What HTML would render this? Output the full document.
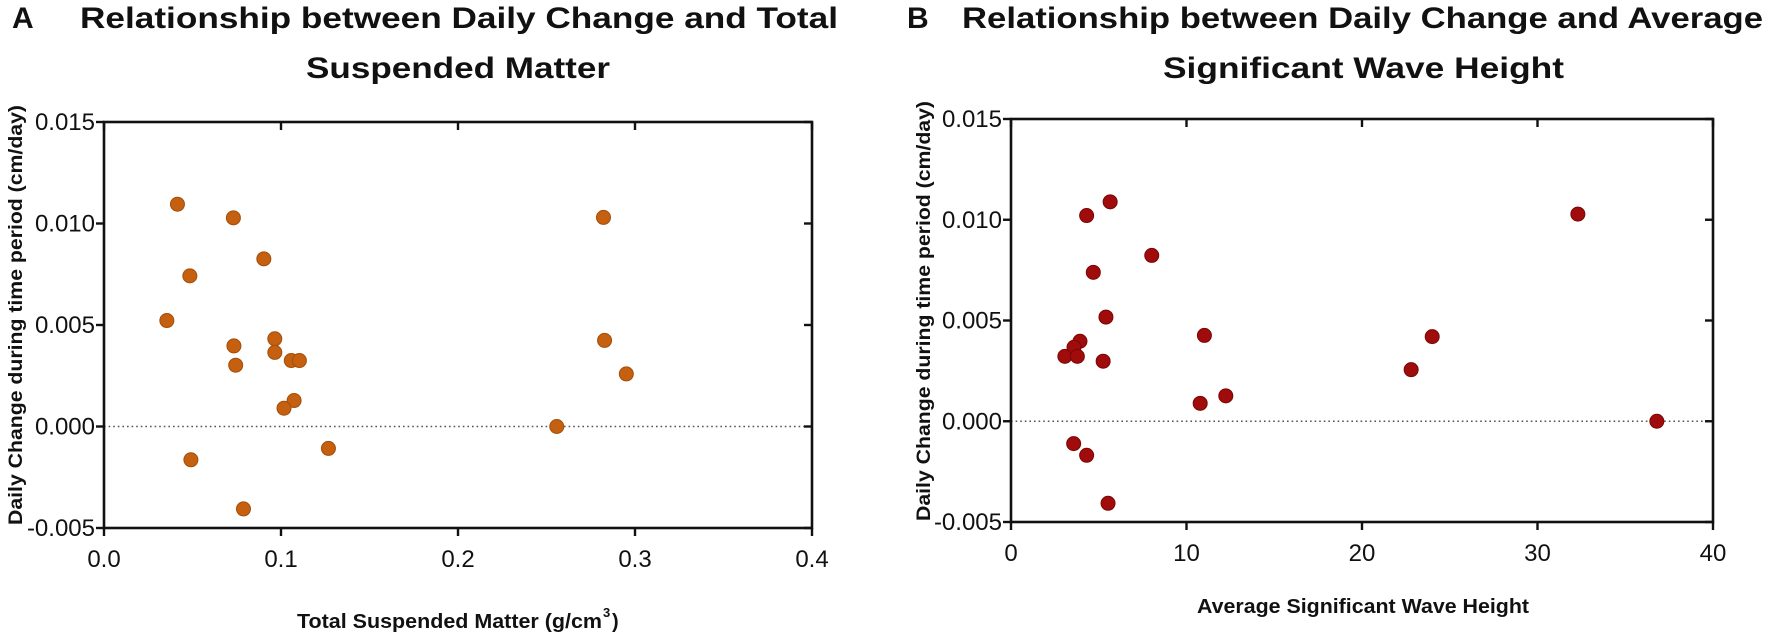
<!DOCTYPE html>
<html><head><meta charset="utf-8"><style>
html,body{margin:0;padding:0;background:#fff;}
svg{display:block;font-family:"Liberation Sans",sans-serif;}
</style></head><body>
<svg id="fig" width="1772" height="637" viewBox="0 0 1772 637">
<g font-weight="bold" fill="#111">
<text x="12" y="28" font-size="30">A</text>
<text x="80" y="28" font-size="30" textLength="758" lengthAdjust="spacingAndGlyphs">Relationship between Daily Change and Total</text>
<text x="306" y="78" font-size="30" textLength="304" lengthAdjust="spacingAndGlyphs">Suspended Matter</text>
<text x="907" y="28" font-size="30">B</text>
<text x="962" y="28" font-size="30" textLength="801" lengthAdjust="spacingAndGlyphs">Relationship between Daily Change and Average</text>
<text x="1163" y="78" font-size="30" textLength="401" lengthAdjust="spacingAndGlyphs">Significant Wave Height</text>
<text transform="translate(22,315) rotate(-90)" text-anchor="middle" font-size="19" textLength="420" lengthAdjust="spacingAndGlyphs">Daily Change during time period (cm/day)</text>
<text transform="translate(930,311) rotate(-90)" text-anchor="middle" font-size="19" textLength="420" lengthAdjust="spacingAndGlyphs">Daily Change during time period (cm/day)</text>
<text x="297" y="628" font-size="20" textLength="305" lengthAdjust="spacingAndGlyphs">Total Suspended Matter (g/cm</text>
<text x="603" y="617" font-size="13">3</text>
<text x="612" y="628" font-size="20">)</text>
<text x="1363" y="613" text-anchor="middle" font-size="20" textLength="332" lengthAdjust="spacingAndGlyphs">Average Significant Wave Height</text>
</g>
<g id="plotA"></g>
<g id="plotB"></g>
</svg>
<script>
const aX = [0.0355,0.0415,0.0731,0.0485,0.0903,0.0734,0.0744,0.0965,0.0965,0.1058,0.1104,0.1074,0.1017,0.1268,0.0491,0.0788,0.2558,0.2822,0.2828,0.2951];
const aY = [0.00522,0.01095,0.01028,0.00742,0.00826,0.00397,0.00302,0.00432,0.00365,0.00325,0.00325,0.00128,0.0009,-0.00108,-0.00164,-0.00406,0,0.0103,0.00424,0.00259];
const bX = [5.65,4.31,8.02,4.69,5.41,3.93,3.59,3.07,3.78,5.25,11.02,10.78,12.24,3.57,4.31,5.53,22.8,24.0,32.3,36.8];
const bY = [0.01089,0.01021,0.00823,0.00739,0.00517,0.00397,0.00367,0.00322,0.00322,0.00298,0.00426,0.00089,0.00126,-0.00111,-0.00169,-0.00407,0.00256,0.0042,0.01028,0];
const yTicks = [-0.005,0,0.005,0.010,0.015];
const yTickLabels = ["-0.005","0.000","0.005","0.010","0.015"];
const aXTicks = [0,0.1,0.2,0.3,0.4];
const aXTickLabels = ["0.0","0.1","0.2","0.3","0.4"];
const bXTicks = [0,10,20,30,40];
const bXTickLabels = ["0","10","20","30","40"];
const NS = "http://www.w3.org/2000/svg";
function mk(parent, tag, attrs){const e=document.createElementNS(NS,tag);for(const k in attrs)e.setAttribute(k,attrs[k]);parent.appendChild(e);return e;}
function drawPlot(gid, box, xmin, xmax, xs, ys, xt, xtl, color, edge, prefix){
  const g=document.getElementById(gid);
  const sx=v=>box.l+(v-xmin)/(xmax-xmin)*(box.r-box.l);
  const sy=v=>box.b-(v-(-0.005))/(0.02)*(box.b-box.t);
  const z=mk(g,'line',{x1:box.l,x2:box.r,y1:sy(0),y2:sy(0),stroke:'#555','stroke-width':1.6,'stroke-dasharray':'1.6 3'});
  
  
  const f=mk(g,'rect',{x:box.l,y:box.t,width:box.r-box.l,height:box.b-box.t,fill:'none',stroke:'#111','stroke-width':2.6});
  
  
  yTicks.forEach((v,i)=>{
    const y=sy(v);
    const t=mk(g,'line',{x1:box.l-8,x2:box.l,y1:y,y2:y,stroke:'#111','stroke-width':2.4});
    
    
    const t2=mk(g,'line',{x1:box.r-8,x2:box.r,y1:y,y2:y,stroke:'#111','stroke-width':2.4});
    
    
    const lb=mk(g,'text',{x:box.l-9,y:y+8,'text-anchor':'end','font-size':24,fill:'#111'});
    lb.textContent=yTickLabels[i];
    
    
  });
  xt.forEach((v,i)=>{
    const x=sx(v);
    const t=mk(g,'line',{x1:x,x2:x,y1:box.b,y2:box.b+8,stroke:'#111','stroke-width':2.4});
    
    
    const t2=mk(g,'line',{x1:x,x2:x,y1:box.t,y2:box.t+8,stroke:'#111','stroke-width':2.4});
    
    
    const lb=mk(g,'text',{x:x,y:box.b+39,'text-anchor':'middle','font-size':24,fill:'#111'});
    lb.textContent=xtl[i];
    
    
  });
  xs.forEach((v,i)=>{
    const c=mk(g,'circle',{cx:sx(v),cy:sy(ys[i]),r:7,fill:color,stroke:edge,'stroke-width':1});
    
    
  });
}
drawPlot('plotA',{l:104,r:812,t:122,b:528},0,0.4,aX,aY,aXTicks,aXTickLabels,'#c4600f','#a34e0a','panel-a');
drawPlot('plotB',{l:1011,r:1713,t:119,b:522},0,40,bX,bY,bXTicks,bXTickLabels,'#a00b0b','#7a0606','panel-b');
</script>
</body></html>
